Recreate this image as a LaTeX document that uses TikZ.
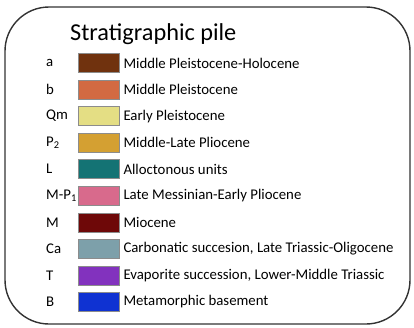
\documentclass[tikz,border=0pt]{standalone}
\usepackage{fontspec}
\setmainfont{Carlito}
\usetikzlibrary{positioning}
\usepackage{xcolor}
\definecolor{cA}{RGB}{112,50,14}
\definecolor{cB}{RGB}{210,106,66}
\definecolor{cQm}{RGB}{228,222,132}
\definecolor{cPtwo}{RGB}{212,160,50}
\definecolor{cL}{RGB}{20,115,116}
\definecolor{cMP}{RGB}{216,106,140}
\definecolor{cM}{RGB}{110,8,8}
\definecolor{cCa}{RGB}{125,160,170}
\definecolor{cT}{RGB}{130,50,190}
\definecolor{cBa}{RGB}{15,50,210}

\begin{document}
\begin{tikzpicture}[
  x=1pt, y=-1pt,
  font=\fontsize{14.8}{16}\selectfont,
  sw/.style={draw=black!45, line width=0.6pt, minimum width=41pt,
             minimum height=19pt, inner sep=0pt},
  lab/.style={anchor=west, inner sep=0pt},
  desc/.style={right=4pt of #1, inner sep=0pt}
]
\useasboundingbox (0,0) rectangle (414,327);
\draw[line width=1.4pt, draw=black!80, rounded corners=44pt] (5,7) rectangle (410,324);

\node[anchor=base west, inner sep=0pt, font=\fontsize{24.3}{26}\selectfont]
     (title) at (70,40) {Stratigraphic pile};

\node[lab] (la)  at (46,63)    {a};
\node[sw, fill=cA] (sa) at (98.5,63) {};
\node[desc=sa] (da) {Middle Pleistocene-Holocene};

\node[lab] (lb)  at (46,89.6)  {b};
\node[sw, fill=cB] (sb) at (98.5,89.6) {};
\node[desc=sb] (db) {Middle Pleistocene};

\node[lab] (lqm) at (46,116.1) {Qm};
\node[sw, fill=cQm] (sqm) at (98.5,116.1) {};
\node[desc=sqm] (dqm) {Early Pleistocene};

\node[lab] (lp)  at (46,142.7) {P\textsubscript{2}};
\node[sw, fill=cPtwo] (sp) at (98.5,142.7) {};
\node[desc=sp] (dp) {Middle-Late Pliocene};

\node[lab] (ll)  at (46,169.2) {L};
\node[sw, fill=cL] (sl) at (98.5,169.2) {};
\node[desc=sl] (dl) {Alloctonous units};

\node[lab] (lmp) at (46,195.8) {M-P\textsubscript{1}};
\node[sw, fill=cMP] (smp) at (98.5,195.8) {};
\node[desc=smp] (dmp) {Late Messinian-Early Pliocene};

\node[lab] (lm)  at (46,222.3) {M};
\node[sw, fill=cM] (sm) at (98.5,222.3) {};
\node[desc=sm] (dm) {Miocene};

\node[lab] (lca) at (46,248.9) {Ca};
\node[sw, fill=cCa] (sca) at (98.5,248.9) {};
\node[desc=sca] (dca) {Carbonatic succesion, Late Triassic-Oligocene};

\node[lab] (lt)  at (46,275.4) {T};
\node[sw, fill=cT] (st) at (98.5,275.4) {};
\node[desc=st] (dt) {Evaporite succession, Lower-Middle Triassic};

\node[lab] (lba) at (46,302)   {B};
\node[sw, fill=cBa] (sba) at (98.5,302) {};
\node[desc=sba] (dba) {Metamorphic basement};
\end{tikzpicture}
\end{document}
